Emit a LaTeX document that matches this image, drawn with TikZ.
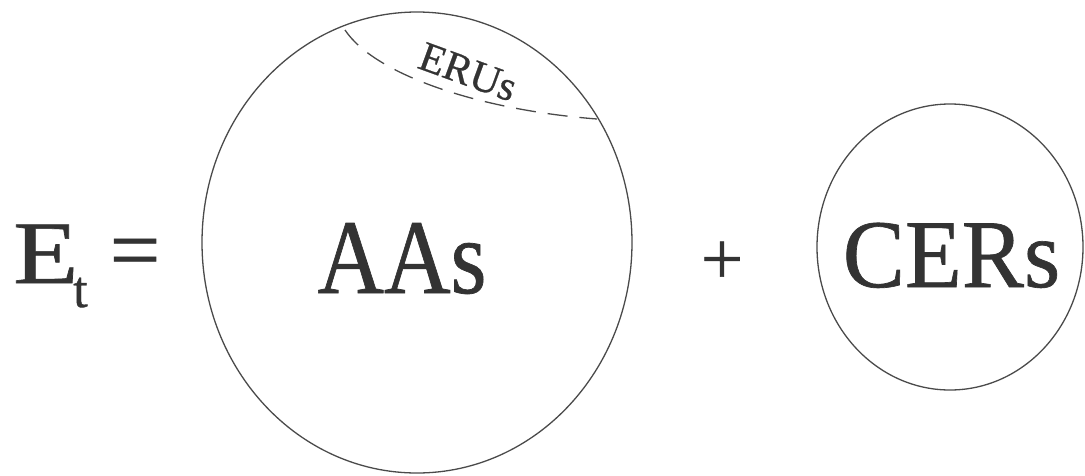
\documentclass[tikz,border=0pt]{standalone}
\usepackage{fontspec}
\setmainfont{Liberation Serif}
\newfontfamily\heavyserif{Liberation Serif}[FakeBold=0.7]
\usetikzlibrary{shapes.geometric}
\definecolor{ink}{HTML}{333333}
\definecolor{linec}{HTML}{4A4A4A}
\begin{document}
\begin{tikzpicture}[x=1pt,y=-1pt,
  txt/.style={text=ink, inner sep=0pt, font=\heavyserif},
  ring/.style={draw=linec, line width=1.3pt, ellipse, inner sep=0pt},
  dashline/.style={draw=linec, line width=1.3pt, dash pattern=on 20pt off 12pt}]
\useasboundingbox (0,0) rectangle (1085,475);
% circles
\node[ring, minimum width=430pt, minimum height=461pt] (big) at (417,242.5) {};
\node[ring, minimum width=266pt, minimum height=286pt] (small) at (950,247) {};
% dashed boundary of ERUs
\coordinate (d1) at (345,30);
\coordinate (d2) at (597,119);
\draw[dashline] (d1) .. controls (375,75) and (480,110) .. (d2);
% texts
\node[txt, anchor=base west] (E) at (13,283) {\fontsize{89}{89}\selectfont\scalebox{1.2}[1]{E}};
\node[txt, anchor=base west] (t) at (73,307) {\fontsize{52}{52}\selectfont t};
\node[txt, anchor=base] (eq) at (135,280) {\fontsize{90}{90}\selectfont =};
\node[txt, anchor=base] (AAs) at (402,293) {\fontsize{106}{106}\selectfont\scalebox{0.87}[1]{AAs}};
\node[txt, anchor=base] (plus) at (722,284) {\fontsize{75}{75}\selectfont +};
\node[txt, anchor=base] (CERs) at (951.5,287) {\fontsize{97}{97}\selectfont\scalebox{0.96}[1]{CERs}};
\node[txt, rotate=-20] (ERUs) at (468,72) {\fontsize{42}{42}\selectfont ERUs};
\end{tikzpicture}
\end{document}
